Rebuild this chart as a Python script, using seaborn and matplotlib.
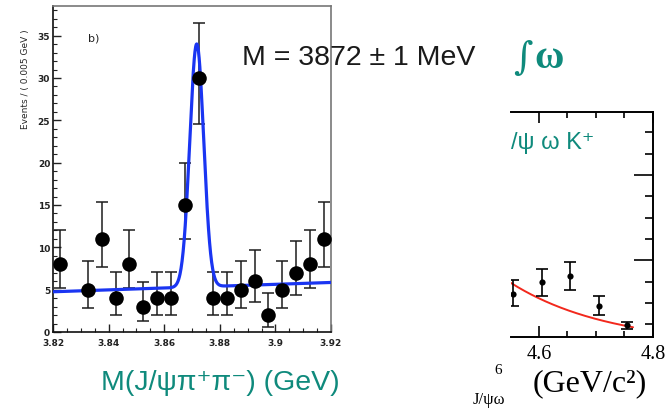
import numpy as np
import matplotlib
matplotlib.use("Agg")
import matplotlib.pyplot as plt
from matplotlib.ticker import MultipleLocator, FixedLocator
import seaborn as sns

sns.set_theme(style="ticks")
plt.rcParams["font.family"] = ["Liberation Sans", "DejaVu Sans"]

# ---- X(3872) -> J/psi pi+ pi- mass spectrum (5 MeV bins) ----
bin_centers = [3.8225, 3.8325, 3.8375, 3.8425, 3.8475, 3.8525, 3.8575, 3.8625,
               3.8675, 3.8725, 3.8775, 3.8825, 3.8875, 3.8925, 3.8975, 3.9025,
               3.9075, 3.9125, 3.9175]
counts = [8, 5, 11, 4, 8, 3, 4, 4, 15, 30, 4, 4, 5, 6, 2, 5, 7, 8, 11]
err_low = [5.2, 2.8, 7.7, 2.0, 5.2, 1.3, 2.0, 2.0, 11.0, 24.6, 2.0, 2.0, 2.8,
           3.6, 0.6, 2.8, 4.4, 5.2, 7.7]
err_high = [12.0, 8.4, 15.4, 7.1, 12.0, 5.9, 7.1, 7.1, 20.0, 36.5, 7.1, 7.1,
            8.4, 9.7, 4.6, 8.4, 10.8, 12.0, 15.4]
x_ticks_left = [3.82, 3.84, 3.86, 3.88, 3.90, 3.92]
x_ticklabels_left = ["3.82", "3.84", "3.86", "3.88", "3.9", "3.92"]
y_ticks_left = [0, 5, 10, 15, 20, 25, 30, 35]

# Fit: Gaussian signal on a linear background
fit_mass = 3.8717
fit_sigma = 0.0025
fit_amp = 28.7
bkg_at_low = 4.75
bkg_at_high = 5.85

# ---- J/psi omega K+ mass spectrum (partial view) ----
jpw_centers = [4.555, 4.605, 4.655, 4.705, 4.755]
jpw_values = [6.05, 7.45, 8.15, 4.65, 2.4]
jpw_err_low = [4.65, 5.8, 6.5, 3.6, 1.9]
jpw_err_high = [7.7, 9.0, 9.8, 5.8, 2.75]
# Exponential background fit
jpw_fit_norm = 7.34
jpw_fit_x0 = 4.551
jpw_fit_slope = 5.75
jpw_fit_range = (4.551, 4.765)

W, H = 672, 410
fig = plt.figure(figsize=(W / 100, H / 100), dpi=100)
fig.patch.set_facecolor("white")


def fpos(x, y):
    return x / W, 1 - y / H


def axes_px(left, top, right, bottom):
    return fig.add_axes([left / W, 1 - bottom / H, (right - left) / W, (bottom - top) / H])


teal = "#0f8a7c"

# ================= left panel =================
ax = axes_px(53, 7, 331, 333)
ax.set_facecolor("white")

xf = np.linspace(3.82, 3.92, 800)
bkg = bkg_at_low + (bkg_at_high - bkg_at_low) * (xf - 3.82) / 0.10
yf = bkg + fit_amp * np.exp(-0.5 * ((xf - fit_mass) / fit_sigma) ** 2)
sns.lineplot(x=xf, y=yf, ax=ax, color="#1a35f2", lw=2.3, zorder=3)

lo = np.array(counts) - np.array(err_low)
hi = np.array(err_high) - np.array(counts)
ax.errorbar(bin_centers, counts, yerr=[lo, hi], fmt="none", ecolor="#1c1c1c",
            elinewidth=1.1, capsize=4.5, capthick=1.1, zorder=2)
sns.scatterplot(x=bin_centers, y=counts, ax=ax, color="black", s=110,
                edgecolor="black", linewidth=0, zorder=4)

ax.set_xlim(3.82, 3.92)
ax.set_ylim(0, 38.5)
ax.set_xticks(x_ticks_left)
ax.set_xticklabels(x_ticklabels_left)
ax.set_yticks(y_ticks_left)
ax.xaxis.set_minor_locator(MultipleLocator(0.005))
ax.yaxis.set_minor_locator(MultipleLocator(1))
ax.tick_params(axis="both", which="major", direction="in", length=6, width=1.0,
               labelsize=6.5, colors="#222222")
ax.tick_params(axis="x", which="major", pad=4)
ax.tick_params(axis="y", which="major", pad=2)
ax.tick_params(axis="both", which="minor", direction="in", length=3, width=0.8,
               colors="#222222")
ax.tick_params(top=False, right=False, which="both")
for lab in ax.get_xticklabels() + ax.get_yticklabels():
    lab.set_fontweight("bold")
    lab.set_family("DejaVu Sans")
ax.set_xlabel("")
ax.set_ylabel("Events / ( 0.005 GeV )", fontsize=6.5, family="DejaVu Sans")
ax.yaxis.set_label_coords(-0.083, 0.78)
for side in ["left", "bottom"]:
    ax.spines[side].set_color("#111111")
    ax.spines[side].set_linewidth(1.2)
for side in ["top", "right"]:
    ax.spines[side].set_color("#777777")
    ax.spines[side].set_linewidth(1.2)
ax.text(0.125, 0.895, "b)", transform=ax.transAxes, fontsize=8, color="#222222",
        family="DejaVu Sans")

# ================= right panel =================
ax2 = axes_px(511, 113, 653, 338)
ax2.set_facecolor("white")
xr = np.linspace(*jpw_fit_range, 200)
yr = jpw_fit_norm * np.exp(-jpw_fit_slope * (xr - jpw_fit_x0))
sns.lineplot(x=xr, y=yr, ax=ax2, color="#f2281c", lw=1.4, zorder=2)

lo2 = np.array(jpw_values) - np.array(jpw_err_low)
hi2 = np.array(jpw_err_high) - np.array(jpw_values)
ax2.errorbar(jpw_centers, jpw_values, yerr=[lo2, hi2], fmt="none", ecolor="black",
             elinewidth=1.2, capsize=4, capthick=1.2, zorder=3)
sns.scatterplot(x=jpw_centers, y=jpw_values, ax=ax2, color="black", s=20,
                linewidth=0, zorder=4)

ax2.set_xlim(4.551, 4.8)
ax2.set_ylim(1, 27.4)
ax2.xaxis.set_major_locator(FixedLocator([4.6, 4.8]))
ax2.xaxis.set_minor_locator(FixedLocator([4.65, 4.7, 4.75]))
ax2.yaxis.set_major_locator(FixedLocator([10, 20]))
ax2.yaxis.set_minor_locator(MultipleLocator(2.5))
ax2.set_xticklabels(["4.6", "4.8"])
ax2.tick_params(axis="x", which="both", direction="in", top=True, bottom=True,
                labelsize=14.5, pad=5, width=1.2, colors="black")
ax2.tick_params(axis="x", which="major", length=8)
ax2.tick_params(axis="x", which="minor", length=4)
ax2.tick_params(axis="y", which="both", direction="in", left=False, right=True,
                labelleft=False, labelright=False, width=1.2, colors="black")
ax2.tick_params(axis="y", which="major", length=14)
ax2.tick_params(axis="y", which="minor", length=6)
for lab in ax2.get_xticklabels():
    lab.set_family("Liberation Serif")
ax2.set_xlabel("")
ax2.set_ylabel("")
ax2.spines["left"].set_visible(False)
for side in ["top", "right", "bottom"]:
    ax2.spines[side].set_color("black")
    ax2.spines[side].set_linewidth(1.4)

# ================= slide text =================
fig.text(*fpos(242, 58), "M = 3872 \u00b1 1 MeV", fontsize=20.5, color="#1a1a1a",
         va="center", ha="left", family=["Liberation Sans", "DejaVu Sans"])
fig.text(*fpos(513, 59), "\u222b", fontsize=27, color=teal, va="center", ha="left",
         family="DejaVu Serif")
fig.text(*fpos(534, 58), "\u03c9", fontsize=29, color=teal, va="center", ha="left",
         family="Liberation Serif", fontweight="bold")
fig.text(*fpos(511, 143), "/\u03c8 \u03c9 K\u207a", fontsize=17, color=teal,
         va="center", ha="left", family=["Liberation Sans", "DejaVu Sans"])
fig.text(*fpos(220, 383), "M(J/\u03c8\u03c0\u207a\u03c0\u207b) (GeV)", fontsize=20.5,
         color=teal, va="center", ha="center", family=["Liberation Sans", "DejaVu Sans"])
fig.text(*fpos(590, 384), "(GeV/c\u00b2)", fontsize=23, color="black",
         va="center", ha="center", family="Liberation Serif")
fig.text(*fpos(498, 371), "6", fontsize=11, color="black", va="center",
         ha="center", family="Liberation Serif")
fig.text(*fpos(489, 400), "J/\u03c8\u03c9", fontsize=12, color="black",
         va="center", ha="center", family=["Liberation Serif", "DejaVu Serif"])

fig.savefig("out.png", dpi=100, facecolor="white")
